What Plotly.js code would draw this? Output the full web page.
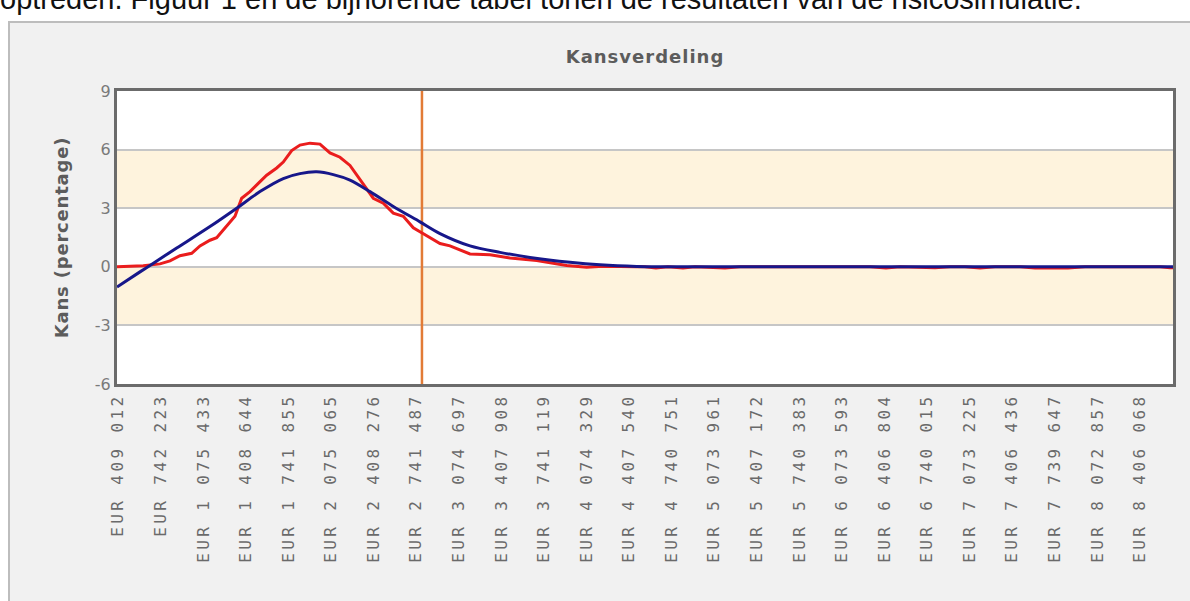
<!DOCTYPE html>
<html>
<head>
<meta charset="utf-8">
<script src="https://cdn.plot.ly/plotly-3.0.1.min.js"></script>
<style>
  html, body { margin: 0; padding: 0; background: #ffffff; }
  #chart { width: 1190px; height: 601px; }
  .xtick text { letter-spacing: 3.4px; }
  .gtitle { letter-spacing: 1px; }
  .ytitle { letter-spacing: 0.8px; }
</style>
</head>
<body>
<div id="chart"></div>
<script>
// ---- data ----
const tickValues = [409012, 742223, 1075433, 1408644, 1741855, 2075065, 2408276, 2741487,
  3074697, 3407908, 3741119, 4074329, 4407540, 4740751, 5073961, 5407172, 5740383,
  6073593, 6406804, 6740015, 7073225, 7406436, 7739647, 8072857, 8406068];
const tickLabels = ["EUR 409 012", "EUR 742 223", "EUR 1 075 433", "EUR 1 408 644",
  "EUR 1 741 855", "EUR 2 075 065", "EUR 2 408 276", "EUR 2 741 487", "EUR 3 074 697",
  "EUR 3 407 908", "EUR 3 741 119", "EUR 4 074 329", "EUR 4 407 540", "EUR 4 740 751",
  "EUR 5 073 961", "EUR 5 407 172", "EUR 5 740 383", "EUR 6 073 593", "EUR 6 406 804",
  "EUR 6 740 015", "EUR 7 073 225", "EUR 7 406 436", "EUR 7 739 647", "EUR 8 072 857",
  "EUR 8 406 068"];
const yTicks = [-6, -3, 0, 3, 6, 9];
const yTickLabels = ["-6", "-3", "0", "3", "6", "9"];
const xRange = [399000, 8664500];

// simulated distribution (red)
const simX = [399000, 604697, 735415, 813689, 891962, 983543, 1048511, 1126785, 1179228,
  1244196, 1322469, 1374913, 1439881, 1504848, 1570598, 1648872, 1700533, 1766283,
  1831250, 1909525, 1987799, 2066072, 2144347, 2222621, 2287588, 2353338, 2404999,
  2483273, 2561547, 2639821, 2718095, 2783845, 2848813, 2927087, 3005360, 3161909,
  3318457, 3475005, 3683996, 3918818, 4075366, 4202953, 4466736, 4531704, 4617805,
  4711734, 4829145, 4923074, 5157896, 5275306, 6292869, 6418107, 6527690, 6801649,
  6919059, 7036471, 7153882, 7271294, 7466979, 7584390, 7701801, 7842694, 7975760,
  8562814, 8641088, 8664500];
const simY = [0.0, 0.05, 0.15, 0.3, 0.57, 0.69, 1.07, 1.36, 1.49, 2.0, 2.59, 3.51, 3.85,
  4.27, 4.69, 5.06, 5.36, 5.95, 6.23, 6.33, 6.28, 5.83, 5.61, 5.19, 4.6, 4.01, 3.51,
  3.26, 2.75, 2.59, 2.0, 1.74, 1.49, 1.19, 1.07, 0.66, 0.62, 0.45, 0.32, 0.07, -0.02,
  0.03, 0.0, 0.0, -0.06, 0.0, -0.06, 0.0, -0.06, 0.0, 0.0, -0.06, 0.0, -0.05, 0.0, 0.0,
  -0.06, 0.0, 0.0, -0.06, -0.06, -0.06, 0.0, 0.0, -0.05, -0.05];

// fitted curve (blue)
const fitX = [399000, 578867, 657141, 866132, 1126785, 1335776, 1518155, 1700533, 1831250,
  1961968, 2091903, 2222621, 2379169, 2561547, 2770539, 2927087, 3161909, 3396731,
  3631553, 3944649, 4179471, 4466736, 4805663, 6000000, 8664500];
const fitY = [-1.03, -0.26, 0.07, 0.96, 2.06, 3.0, 3.85, 4.52, 4.77, 4.86, 4.72, 4.44, 3.85,
  3.09, 2.3, 1.7, 1.07, 0.74, 0.48, 0.23, 0.1, 0.02, 0.0, 0.0, 0.0];

// vertical marker (orange)
const markerValue = 2786000;

const titleText = "Kansverdeling";
const yTitleText = "Kans (percentage)";
const introText = "optreden. Figuur 1 en de bijhorende tabel tonen de resultaten van de risicosimulatie.";

// ---- chart ----
const W = 1190, H = 601;
const M = { l: 117, r: 17, t: 91, b: 217 };
const pw = W - M.l - M.r, ph = H - M.t - M.b;
const px2paperX = px => (px - M.l) / pw;
const px2paperY = py => (H - M.b - py) / ph;

const traces = [
  { x: [markerValue, markerValue], y: [yTicks[0], yTicks[yTicks.length - 1]],
    mode: 'lines', line: { color: '#e27b36', width: 2.5 }, hoverinfo: 'skip' },
  { x: simX, y: simY, mode: 'lines', line: { color: '#ea1d1d', width: 3 }, name: 'Simulatie' },
  { x: fitX, y: fitY, mode: 'lines', line: { color: '#17178a', width: 3, shape: 'spline', smoothing: 0.8 }, name: 'Verdeling' }
];

const shapes = [];
// alternate cream bands between y tick values
for (let i = 0; i < yTicks.length - 1; i++) {
  if (i % 2 === 1) {
    shapes.push({ type: 'rect', xref: 'paper', yref: 'y', x0: 0, x1: 1,
      y0: yTicks[i], y1: yTicks[i + 1], fillcolor: '#fef3dd', line: { width: 0 }, layer: 'below' });
  }
}
// white page area around the gray panel
shapes.push({ type: 'rect', xref: 'paper', yref: 'paper', x0: -0.3, x1: 1.3,
  y0: px2paperY(22), y1: 1.5, fillcolor: '#ffffff', line: { width: 0 }, layer: 'below' });
shapes.push({ type: 'rect', xref: 'paper', yref: 'paper', x0: -0.3, x1: px2paperX(9),
  y0: -1, y1: 1.5, fillcolor: '#ffffff', line: { width: 0 }, layer: 'below' });
shapes.push({ type: 'rect', xref: 'paper', yref: 'paper', x0: px2paperX(9), x1: 1.1,
  y0: -1, y1: px2paperY(22), fillcolor: 'rgba(0,0,0,0)', line: { color: '#bdbdbd', width: 2 }, layer: 'below' });

const layout = {
  width: W, height: H,
  margin: M,
  paper_bgcolor: '#f1f1f1',
  plot_bgcolor: '#ffffff',
  showlegend: false,
  title: { text: titleText, font: { family: 'DejaVu Sans', size: 18, weight: 'bold', color: '#5c5c5c' },
    x: 0.5, xref: 'paper', xanchor: 'center', y: 1 - 57 / H, yref: 'container', yanchor: 'middle' },
  xaxis: { range: xRange, tickvals: tickValues, ticktext: tickLabels, tickangle: -90,
    ticks: '', showgrid: false, zeroline: false, showline: true, mirror: true,
    linecolor: '#6b6b6b', linewidth: 3, automargin: false,
    tickfont: { family: 'DejaVu Sans Mono', size: 16, color: '#6a6a6a' }, fixedrange: true },
  yaxis: { range: [yTicks[0], yTicks[yTicks.length - 1]], tickvals: yTicks, ticktext: yTickLabels,
    ticks: '', showgrid: true, gridcolor: '#c6c6c6', gridwidth: 2, zeroline: false, showline: true,
    mirror: true, linecolor: '#6b6b6b', linewidth: 3, automargin: false,
    tickfont: { family: 'DejaVu Sans', size: 16, color: '#7a7a7a' },
    title: { text: yTitleText, standoff: 22, font: { family: 'DejaVu Sans', size: 18, weight: 'bold', color: '#5c5c5c' } },
    fixedrange: true },
  shapes: shapes,
  annotations: [
    { text: introText, xref: 'paper', yref: 'paper', x: px2paperX(-2), xanchor: 'left',
      y: px2paperY(-1), yanchor: 'middle', showarrow: false,
      font: { family: 'Liberation Sans', size: 29, color: '#111111' } }
  ]
};

Plotly.newPlot('chart', traces, layout, { displayModeBar: false, staticPlot: true });
</script>
</body>
</html>
